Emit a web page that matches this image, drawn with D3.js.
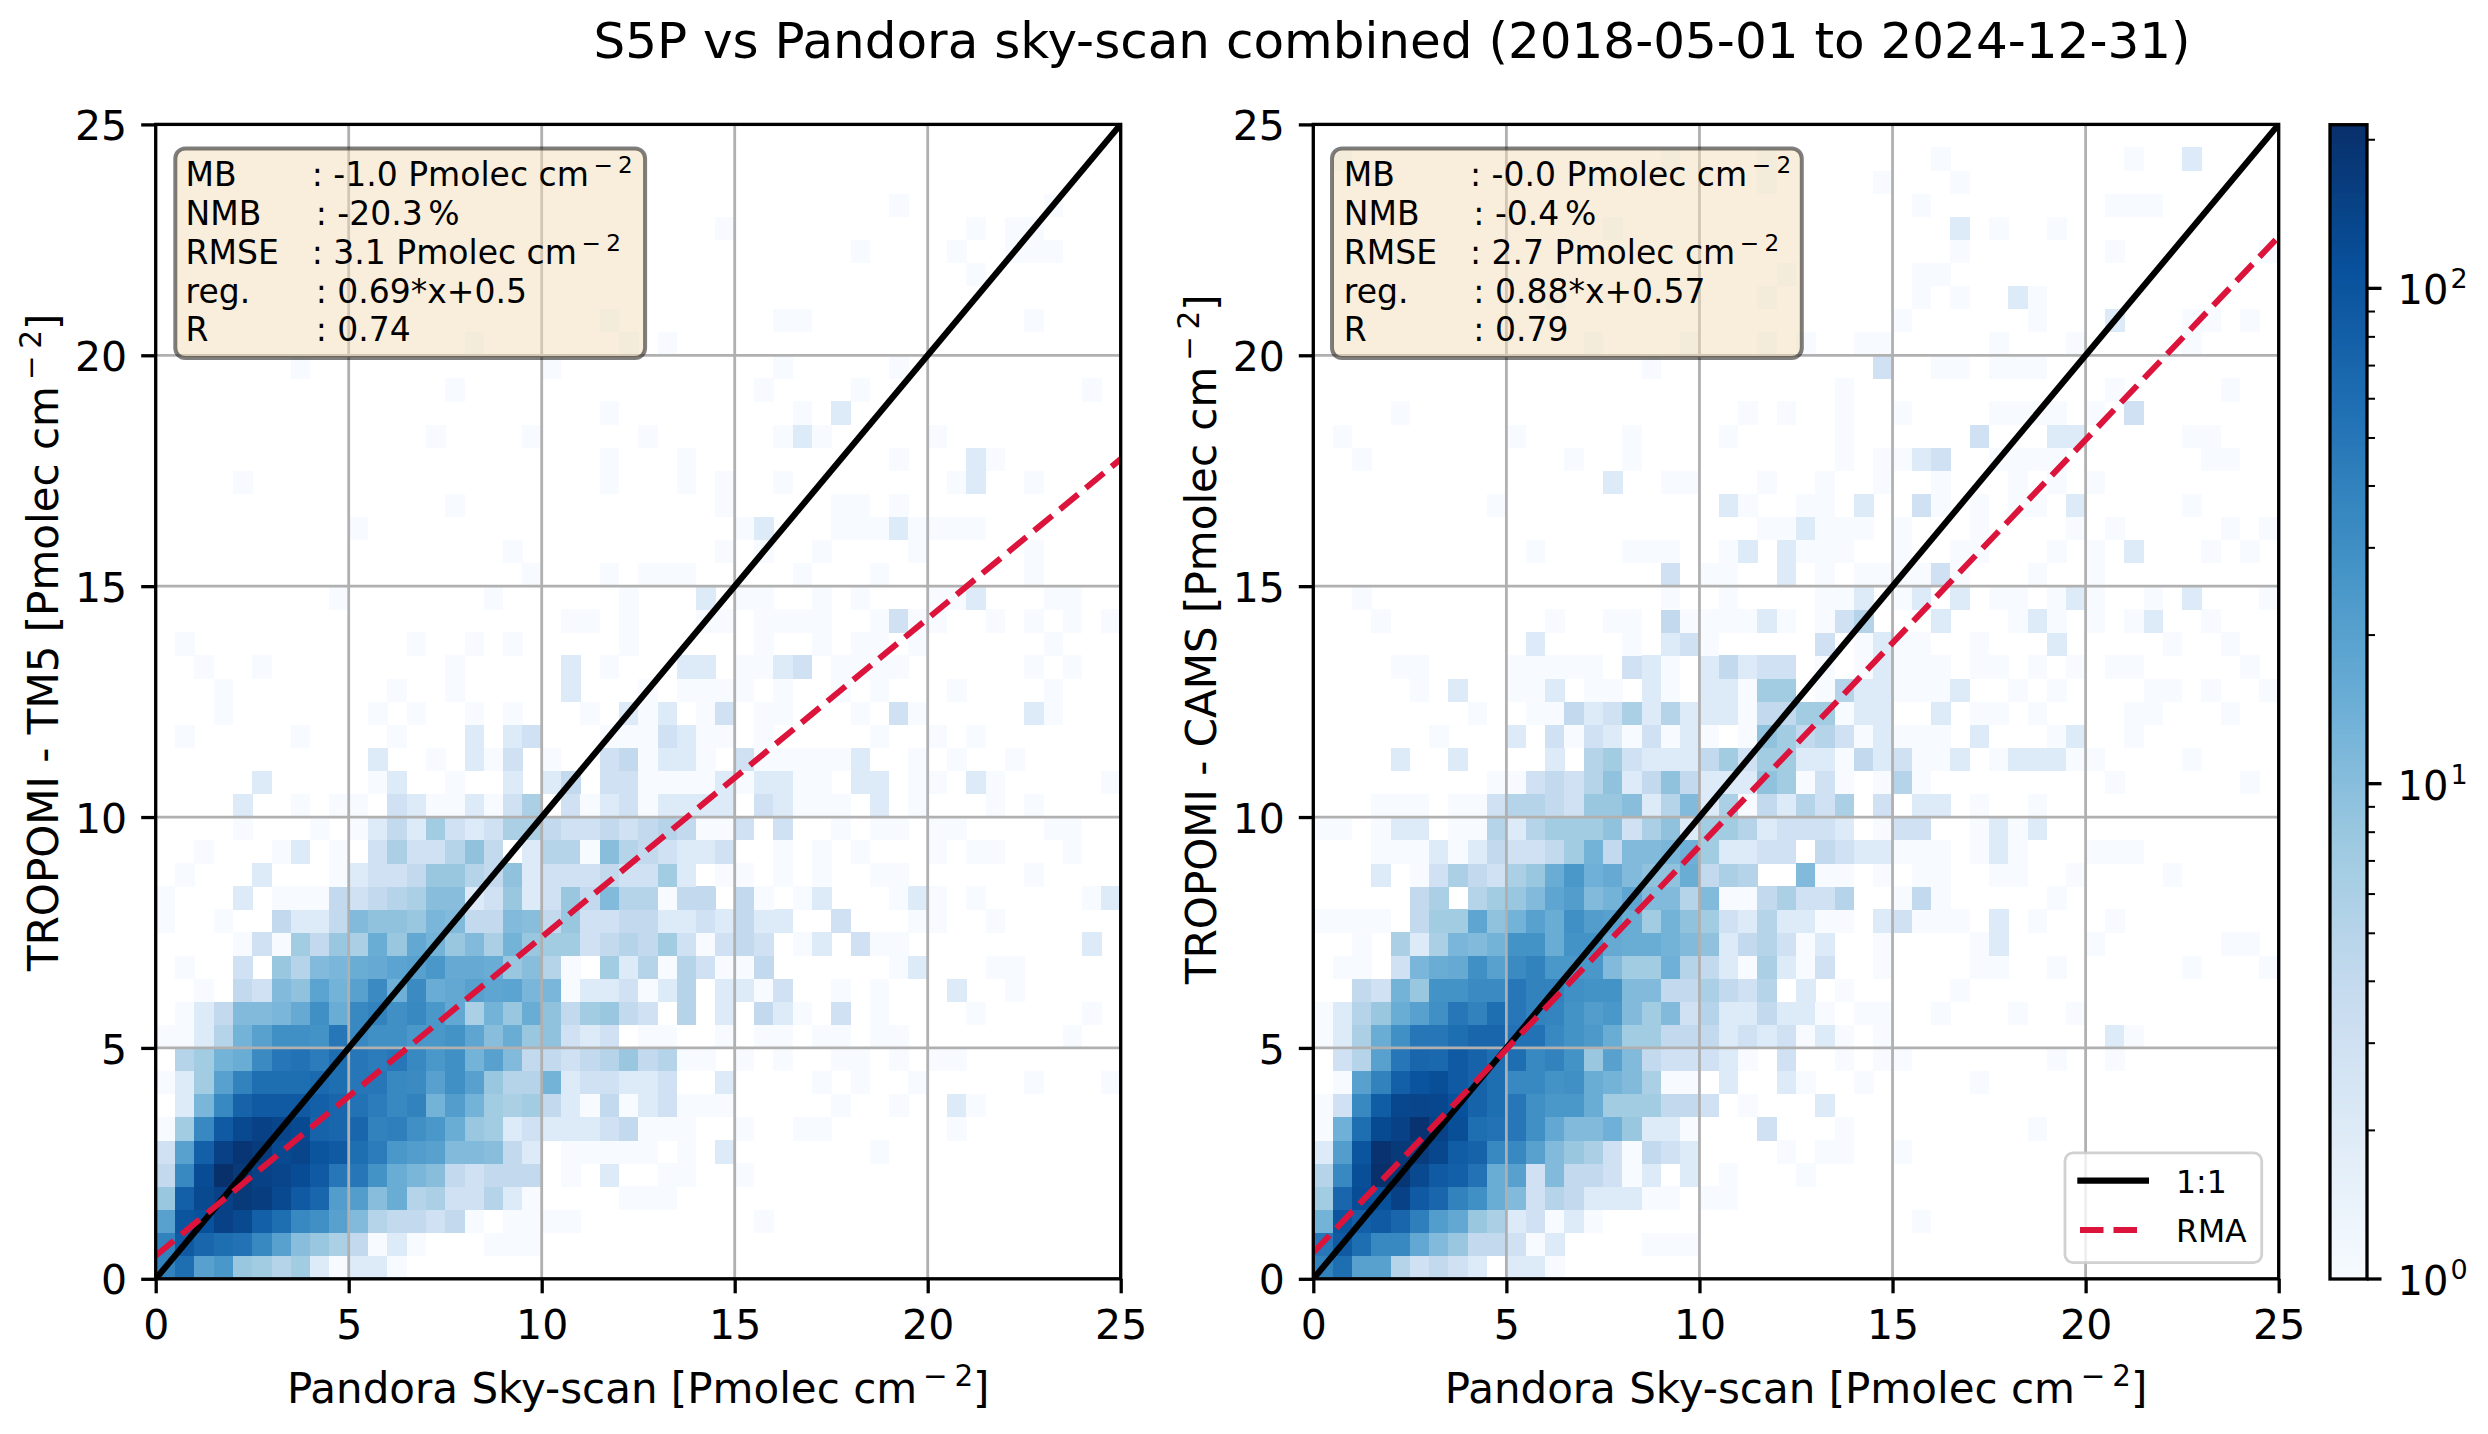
<!DOCTYPE html>
<html><head><meta charset="utf-8">
<script src="https://cdn.jsdelivr.net/npm/d3@7"></script>
<style>html,body{margin:0;padding:0;background:#fff}svg{display:block}text{font-family:"DejaVu Sans";fill:#000}</style>
</head><body><svg id="c" width="2488" height="1434" xmlns="http://www.w3.org/2000/svg"></svg>
<script>
const titleText = "S5P vs Pandora sky-scan combined (2018-05-01 to 2024-12-31)";
const axisTicks = [0,5,10,15,20,25];
const statLabels = ["MB","NMB","RMSE","reg.","R"];
const tm5Stats = ["-1.0","-20.3","3.1","0.69*x+0.5","0.74"];
const camsStats = ["-0.0","-0.4","2.7","0.88*x+0.57","0.79"];
const tm5Fit = [0.69,0.5];
const camsFit = [0.88,0.57];
const legendLabels = ["1:1","RMA"];
// 2-D histogram counts, row = y bin from the bottom (0.5 wide), {xBin: count}
const tm5Rows = [
{0:40,1:60,2:20,3:25,4:8,5:7,6:5,7:7,8:2,9:1,10:2,11:2,12:1},
{0:40,1:90,2:70,3:60,4:55,5:35,6:20,7:10,8:8,9:6,10:4,11:1,12:2,13:1,17:1,18:1,19:1},
{0:20,1:100,2:110,3:150,4:130,5:80,6:60,7:35,8:30,9:20,10:11,11:5,12:4,13:4,14:3,15:4,16:1,18:1,19:1,20:1,21:1,31:1},
{0:8,1:80,2:130,3:150,4:180,5:160,6:130,7:90,8:70,9:22,10:22,11:10,12:15,13:5,14:6,15:3,16:3,17:5,18:2,19:1,24:1,25:1,26:1},
{0:4,1:35,2:120,3:210,4:180,5:150,6:140,7:120,8:90,9:50,10:50,11:28,12:15,13:12,14:10,15:4,16:3,17:4,18:4,19:4,21:1,23:2,26:1,27:1,30:1},
{0:3,1:20,2:80,3:150,4:190,5:170,6:130,7:140,8:100,9:90,10:60,11:45,12:25,13:22,14:20,15:11,16:11,17:10,18:4,19:2,21:1,22:1,23:1,24:1,25:1,27:1,29:2,37:1},
{0:1,1:7,2:35,3:90,4:130,5:150,6:140,7:125,8:75,9:70,10:70,11:40,12:42,13:30,14:25,15:15,16:8,17:7,18:2,19:3,20:2,21:2,22:2,23:3,24:4,25:1,26:1,27:1,30:1,33:1,34:1,41:1},
{1:2,2:12,3:35,4:75,5:90,6:90,7:90,8:80,9:70,10:55,11:45,12:35,13:40,14:13,15:22,16:13,17:7,18:6,19:7,20:4,21:2,22:1,23:4,24:1,25:2,26:3,27:1,28:1,29:1,35:1,38:1,41:2,42:1},
{0:1,1:2,2:7,3:20,4:40,5:60,6:60,7:60,8:65,9:60,10:50,11:50,12:35,13:33,14:20,15:30,16:20,17:8,18:5,19:5,20:13,21:2,22:3,23:3,24:2,25:2,26:3,29:2,34:1,36:1,39:1,45:1,49:1},
{1:5,2:7,3:13,4:15,5:33,6:50,7:55,8:45,9:60,10:50,11:45,12:50,13:35,14:25,15:30,16:13,17:20,18:11,19:4,20:4,21:3,22:4,23:5,24:8,25:4,26:5,27:1,28:1,30:1,32:1,35:1,36:1,38:1,40:1,41:1},
{0:1,1:1,2:2,3:5,4:13,5:20,6:30,7:30,8:28,9:50,10:35,11:30,12:30,13:25,14:25,15:28,16:18,17:10,18:15,19:8,20:9,21:3,22:2,23:3,25:1,26:1,29:1,31:1,32:1,34:1,35:1,37:1,38:1,47:1},
{1:1,2:2,3:4,4:11,5:11,6:12,7:16,8:30,9:15,10:35,11:40,12:30,13:35,14:25,15:17,16:6,17:13,18:8,19:15,20:9,21:4,22:7,23:8,24:4,25:3,27:5,29:2,31:4,32:2,33:1,35:3,37:1,42:1,48:1},
{2:1,4:4,5:3,6:11,7:9,8:19,9:13,10:20,11:33,12:14,13:33,14:15,15:17,16:20,17:18,18:19,19:12,20:12,21:1,22:2,23:2,24:3,25:1,26:2,27:5,29:2,30:2,31:1,32:3,35:1,37:1,41:2,44:1},
{1:1,4:3,6:8,7:5,8:11,9:12,10:15,11:16,12:19,13:20,14:25,15:16,16:16,17:15,18:8,19:10,20:5,21:1,23:7,24:2,25:5,26:1,27:5,28:3,29:1,30:1,31:4,38:1,39:2,43:1,44:1},
{4:1,5:3,6:1,7:7,8:4,9:8,10:6,11:15,12:8,13:17,14:13,15:8,16:11,17:6,18:13,19:8,20:7,21:7,22:3,23:4,24:5,25:4,26:7,27:3,28:1,29:3,30:4,31:3,33:1,34:2,36:3,37:1,38:1,48:2},
{0:1,3:1,6:4,7:2,8:2,9:4,10:11,11:9,12:9,13:8,14:12,15:11,16:4,17:4,18:11,19:10,20:4,21:8,22:3,23:3,24:4,25:4,26:2,27:2,28:3,29:2,30:4,31:2,32:2,35:3,39:1,40:1,43:1},
{0:1,4:2,6:1,7:1,8:1,9:4,10:3,11:4,12:5,13:6,14:10,15:10,16:2,17:3,18:8,19:2,20:3,21:8,22:4,23:11,24:5,25:5,26:1,27:4,28:4,30:4,31:1,33:1,34:2,38:1,39:2,40:1,42:1,48:1,49:2},
{1:1,5:2,9:1,10:2,11:3,12:3,13:4,14:8,15:8,16:5,17:4,18:9,19:2,20:3,21:3,22:3,23:4,24:3,25:3,26:7,27:2,29:1,30:1,32:1,34:1,37:1,38:1,45:1},
{2:1,6:1,7:2,9:1,11:3,12:6,13:3,14:3,15:5,16:9,17:4,19:2,20:5,21:5,22:1,23:10,24:5,25:4,26:3,27:2,28:2,29:3,32:1,34:1,36:1,40:1,42:1,43:1,47:1},
{4:1,8:1,10:1,11:2,12:4,13:2,14:7,15:3,16:2,17:3,18:6,19:6,20:4,21:3,22:3,23:4,24:3,25:4,26:5,27:4,28:1,29:1,30:3,32:3,35:1,37:1,38:1,40:1,41:1,46:1,47:1},
{4:2,7:1,9:1,10:1,12:3,13:2,14:1,15:1,16:2,17:1,18:3,19:6,21:3,22:1,23:2,24:3,25:1,26:2,27:2,28:2,29:2,31:3,32:2,33:1,34:1,35:1,37:2,39:1,43:1,45:1},
{5:2,11:1,12:2,15:1,18:2,20:2,21:4,23:3,24:3,25:1,26:1,27:1,28:1,29:2,30:1,31:2,32:2,33:1,34:1,36:2,37:2,39:1,40:1,42:2,43:1,49:1},
{11:2,14:1,16:2,17:1,18:3,20:1,23:3,24:4,25:1,26:2,27:2,28:1,30:3,31:1,32:1,33:1,34:1,35:1,36:2,39:1,41:1,44:1},
{1:1,7:1,12:1,16:2,18:2,19:3,23:1,24:1,25:1,26:3,27:2,28:1,29:1,31:1,37:1,40:1,42:1},
{3:1,11:1,13:1,16:1,18:1,22:1,24:2,25:1,26:2,28:1,29:3,31:1,32:1,36:1,38:3,39:1,45:2,46:1},
{3:1,12:1,15:1,21:2,25:1,27:1,28:1,29:1,30:1,32:1,35:1,37:1,41:1,46:1},
{2:1,5:1,15:1,21:2,23:1,27:2,28:2,30:1,31:1,32:2,33:3,35:1,36:1,37:1,38:1,45:1,47:1},
{1:1,13:1,16:1,18:1,24:1,31:1,34:1,36:1,37:1,39:1,46:1},
{21:1,22:1,24:1,28:1,29:1,31:1,32:1,33:1,34:1,37:1,38:3,39:1,40:1,43:1,45:1,47:1,49:1},
{9:1,17:1,24:1,28:2,30:1,31:1,34:1,36:1,40:1,41:1,42:2,46:1,47:1},
{19:1,23:1,25:1,26:1,27:1,33:1,37:1,45:1},
{18:1,29:1,31:1,34:1,39:1,45:1},
{10:1,30:1,31:2,35:1,36:1,37:1,38:2,39:1,40:1,41:1,42:1},
{15:1,29:1,35:1,36:1,38:1},
{4:1,23:1,27:1,29:1,32:1,41:1,42:2,45:1},
{23:1,27:1,38:1,42:2,43:1},
{14:1,19:1,25:1,32:1,33:2,34:1,40:1},
{23:1,33:1,35:2},
{15:1,31:1,36:1,48:1},
{7:1,20:1,32:1,38:1},
{16:1,24:1,26:1},
{23:1,32:1,33:1,45:1},
{},
{42:1},
{36:1,41:1,44:1,45:1,46:1},
{29:1,42:1,44:1,45:1},
{38:1,46:1},
{},{},{}
];
const camsRows = [
{0:40,1:60,2:20,3:20,4:5,5:3,6:4,7:3,8:2,10:2,11:2,12:1},
{0:50,1:90,2:60,3:35,4:35,5:17,6:11,7:8,8:4,9:4,10:3,11:1,12:2,17:1,18:1,19:1},
{0:13,1:100,2:80,3:90,4:70,5:42,6:22,7:17,8:8,9:6,10:2,11:3,12:1,13:2,14:1,31:1},
{0:7,1:70,2:120,3:110,4:150,5:90,6:70,7:40,8:30,9:15,10:11,11:3,12:5,13:4,14:2,15:2,16:2,17:1,18:1,20:1,21:1},
{0:5,1:35,2:115,3:210,4:190,5:130,6:90,7:80,8:55,9:15,10:20,11:3,12:11,13:4,14:4,15:3,16:1,17:2,19:2,21:1,25:1},
{0:2,1:22,2:100,3:200,4:180,5:165,6:135,7:85,8:75,9:35,10:35,11:20,12:11,13:8,14:6,15:3,16:1,17:4,18:3,19:2,24:1,26:1,27:1,30:1},
{0:1,1:14,2:60,3:125,4:150,5:200,6:150,7:115,8:60,9:55,10:50,11:30,12:17,13:11,14:11,15:14,16:8,17:2,18:2,19:1,23:3,27:1,37:1},
{0:1,1:3,2:35,3:85,4:135,5:140,6:135,7:110,8:75,9:60,10:50,11:30,12:25,13:25,14:15,15:7,16:7,17:7,18:4,19:4,20:3,22:1,26:2},
{1:1,2:20,3:40,4:80,5:105,6:115,7:90,8:75,9:60,10:35,11:35,12:28,13:30,14:15,15:13,16:11,17:6,18:1,19:1,21:2,24:2,25:1,28:1,34:1},
{1:3,2:5,3:20,4:50,5:70,6:68,7:90,8:75,9:60,10:60,11:35,12:40,13:28,14:8,15:20,16:11,17:4,18:3,19:3,20:3,21:2,22:1,24:3,27:1,29:1,30:1,38:1,41:1},
{0:1,1:2,2:6,3:15,4:30,5:50,6:50,7:60,8:70,9:70,10:55,11:55,12:35,13:28,14:24,15:15,16:7,17:7,18:4,19:4,20:4,21:2,22:3,23:2,24:3,25:1,26:2,27:1,29:1,41:2,42:1},
{0:1,1:2,2:5,3:8,4:15,5:20,6:30,7:50,8:40,9:60,10:50,11:40,12:38,13:28,14:22,15:25,16:11,17:7,18:11,19:3,20:5,21:2,22:2,23:4,24:2,25:2,26:1,28:1,29:1,32:1,36:1,39:1},
{2:4,3:3,4:13,5:8,6:28,7:28,8:33,9:33,10:50,11:40,12:40,13:30,14:28,15:28,16:11,17:11,18:4,19:4,20:6,21:4,22:3,23:5,25:2,27:1,33:1},
{1:1,2:1,4:3,5:12,6:15,7:16,8:30,9:20,10:33,11:40,12:25,13:25,14:25,15:11,16:7,17:7,18:14,19:5,20:4,21:2,22:1,23:6,24:2,25:1,26:3,29:1,34:1,35:1,38:1,45:1,49:1},
{2:1,4:6,5:2,6:6,7:12,8:11,9:13,10:28,11:28,12:15,13:28,14:28,15:16,16:15,17:15,18:13,19:11,20:9,21:2,22:4,23:5,24:3,25:1,26:2,29:1,34:1,35:2,40:1,47:1,48:1},
{0:1,1:1,2:1,3:1,5:4,6:7,7:7,8:18,9:9,10:13,11:20,12:15,13:30,14:22,15:20,16:15,17:7,18:13,19:9,20:7,21:3,22:2,23:5,24:2,25:2,26:1,27:1,29:2,30:3,31:1,32:1,33:1,35:2,37:1,41:1},
{5:4,6:6,8:5,9:7,10:8,11:11,12:18,13:22,14:11,15:13,16:18,17:11,18:11,19:5,20:11,21:1,22:1,23:4,24:6,25:3,26:3,27:5,30:1,31:4,32:1,38:1},
{3:2,5:1,6:3,7:6,8:4,9:3,10:6,11:8,12:15,13:25,14:14,15:16,16:11,17:9,18:9,19:15,20:4,21:6,22:5,25:11,26:1,27:1,29:1,31:1,32:1,35:1,36:1,39:1,44:1},
{3:1,4:1,5:1,6:2,7:1,8:2,9:4,10:3,11:3,12:4,13:7,14:13,15:4,16:11,17:11,18:12,19:14,20:7,21:2,22:2,23:3,24:3,26:4,27:3,28:2,29:2,30:1,31:1,32:1,34:1,35:2,36:1,40:1,41:1,42:1},
{0:1,1:1,3:1,4:2,5:2,7:1,8:1,9:5,10:2,11:5,12:7,13:7,14:7,15:9,16:3,17:6,18:9,19:2,20:7,21:7,22:5,23:2,24:3,25:3,26:3,27:2,29:1,30:3,31:3,34:1,35:2,36:1,37:2},
{3:1,4:1,5:1,7:1,8:1,9:3,10:5,11:5,12:4,13:3,14:8,15:8,16:10,17:2,18:5,19:11,20:2,21:6,22:1,23:4,24:2,25:5,26:3,27:6,29:3,31:2,32:2,34:1,37:1},
{9:1,10:1,11:3,12:4,13:3,14:5,15:9,16:2,17:4,18:9,19:4,20:2,21:2,22:2,23:9,24:7,25:1,26:3,27:1,29:1,30:5,31:1,41:1,48:1},
{4:2,7:2,12:2,14:5,15:7,16:3,17:2,18:2,19:2,20:4,21:7,22:3,23:7,24:7,25:2,26:2,27:1,28:4,29:2,30:3,31:1,32:1,33:2,35:1,36:2,37:2,38:2,39:1,40:1,45:1},
{6:1,10:2,12:3,13:1,14:3,15:2,16:1,17:3,18:1,19:2,20:1,22:1,23:9,24:7,25:4,26:5,27:3,28:1,29:2,30:1,31:1,32:1,34:2,38:1,39:2,42:1},
{8:1,11:1,12:1,13:4,14:2,15:3,16:6,17:2,18:5,19:2,20:2,21:2,22:1,23:4,24:4,25:7,26:7,27:1,28:2,29:2,32:2,34:1,35:1,37:1,42:1,43:1,47:1},
{5:1,7:2,10:1,11:1,12:2,14:1,15:1,17:2,18:1,20:2,21:2,22:1,23:7,24:7,26:1,27:5,28:2,29:2,30:1,31:1,32:1,33:2,36:1,38:1,43:1,44:1,46:1,49:1},
{4:1,5:1,10:1,11:1,12:1,13:1,14:1,16:3,17:2,18:1,20:2,21:4,22:2,23:3,24:3,26:1,28:1,29:2,30:1,31:1,32:1,34:1,35:1,37:1,39:1,41:1,42:1,48:1},
{11:2,16:1,18:2,19:3,20:1,26:3,28:1,29:2,30:1,31:1,34:1,38:2,44:1,47:1},
{3:1,12:1,15:1,16:1,18:4,19:1,20:1,21:1,22:1,23:2,24:1,26:1,27:3,28:5,32:2,36:1,37:2,38:1,40:1,42:1,43:2,46:1},
{2:1,18:1,21:1,26:1,27:1,28:2,30:1,31:2,33:2,35:1,36:1,38:1,39:2,40:1,43:1,45:2,49:1},
{18:3,20:1,21:1,24:2,26:1,28:1,29:1,30:1,31:1,32:3,33:1,37:1,40:1},
{11:1,16:1,17:1,18:1,21:1,22:2,24:2,25:1,26:1,27:1,30:1,33:1,34:1,38:1,40:1,42:2,46:1,48:1},
{23:1,24:1,25:2,26:1,27:1,28:1,30:1,34:1,39:1,41:1,47:1,49:1},
{9:1,21:2,22:1,25:1,26:1,28:2,31:3,32:1,34:1,36:1,37:1,39:2,45:1},
{15:2,18:1,19:1,23:1,26:1,29:1,32:1,36:1,38:1,40:1},
{2:1,13:1,16:1,27:1,29:1,30:1,31:2,32:3,35:1,36:1,37:1,38:1,46:1,47:1},
{1:1,10:1,16:1,21:1,27:1,34:3,38:2,39:2,45:1,46:1},
{4:1,22:1,24:1,27:1,30:1,35:1,36:1,37:1,38:1,40:1,42:3},
{27:1,41:1,47:1},
{17:1,29:3,32:1,33:1,35:1,36:1,37:1},
{14:1,19:1,23:1,25:1,28:1,29:1,35:1,39:1,45:1},
{30:1,37:1,41:2,45:1,46:1,48:1},
{12:1,23:1,31:1,33:1,36:2,37:1},
{24:1,31:1,32:1},
{33:1,41:1,49:1},
{15:1,33:2,35:1,38:1},
{31:1,41:1,42:1,43:1},
{23:1,29:1,33:1},
{1:1,18:1,23:1,32:1,42:1,45:2},
{}
];
const vMin = 1, vMax = 214;
const blues = ["#f7fbff","#deebf7","#c6dbef","#9ecae1","#6baed6","#4292c6","#2171b5","#08519c","#08306b"];
const cbMajor = [1,10,100];
const cbMinor = [2,3,4,5,6,7,8,9,20,30,40,50,60,70,80,90,200];

const svg = d3.select("#c");
svg.append("rect").attr("width",2488).attr("height",1434).attr("fill","#fff");
const colorFrac = d3.scaleLog().domain([vMin,vMax]).range([0,1]);
const ramp = d3.piecewise(d3.interpolateRgb, blues);
const color = v => ramp(colorFrac(v));
const T = 124.4, B = 1278.8, TICK_FS = 41, LABEL_FS = 42, STAT_FS = 33, SW = 3.3, GRID_W = 2.8, LINE_W = 6.2, DASH_W = 6;
const y = d3.scaleLinear().domain([0,25]).range([B,T]);
const UNIT = "Pmolec cm";

function unitSup(t, fs){
  t.append("tspan").attr("dx",fs*0.14).attr("dy",-fs*0.4).attr("font-size",fs*0.7).text("\u2212");
  t.append("tspan").attr("dx",fs*0.16).attr("font-size",fs*0.7).text("2");
}

function panel(o){
  const x = d3.scaleLinear().domain([0,25]).range([o.L,o.R]);
  const g = svg.append("g");
  const id = "clip"+o.k;
  svg.append("clipPath").attr("id",id).append("rect").attr("x",o.L).attr("y",T).attr("width",o.R-o.L).attr("height",B-T);
  const cells = o.rows.flatMap((r,j)=>Object.entries(r).map(([i,v])=>({i:+i,j,v})));
  g.append("g").attr("shape-rendering","crispEdges").selectAll("rect").data(cells).join("rect")
    .attr("x",d=>x(d.i*0.5)).attr("y",d=>y((d.j+1)*0.5))
    .attr("width",x(0.5)-x(0)+0.3).attr("height",y(0)-y(0.5)+0.3)
    .attr("fill",d=>color(d.v));
  // grid
  const grid = g.append("g").attr("stroke","#b0b0b0").attr("stroke-width",GRID_W);
  grid.selectAll("line.v").data(axisTicks).join("line").attr("class","v")
    .attr("x1",d=>x(d)).attr("x2",d=>x(d)).attr("y1",T).attr("y2",B);
  grid.selectAll("line.h").data(axisTicks).join("line").attr("class","h")
    .attr("y1",d=>y(d)).attr("y2",d=>y(d)).attr("x1",o.L).attr("x2",o.R);
  // lines
  const lines = g.append("g").attr("clip-path",`url(#${id})`).attr("fill","none");
  const ln = d3.line().x(d=>x(d[0])).y(d=>y(d[1]));
  lines.append("path").attr("d",ln([[0,0],[25,25]])).attr("stroke","#000").attr("stroke-width",LINE_W);
  lines.append("path").attr("d",ln([0,25].map(v=>[v,o.fit[0]*v+o.fit[1]])))
    .attr("stroke","#dc143c").attr("stroke-width",DASH_W).attr("stroke-dasharray","23.5 10");
  // stats box
  g.append("rect").attr("x",o.boxX).attr("y",148.5).attr("width",469.8).attr("height",209.5).attr("rx",10)
    .attr("fill","#f1ddb7").attr("fill-opacity",0.5).attr("stroke","#000").attr("stroke-opacity",0.5).attr("stroke-width",4);
  const base = [185.9,225.4,264.3,303,341.2];
  statLabels.forEach((s,i)=>{
    g.append("text").attr("x",o.labelX).attr("y",base[i]).attr("font-size",STAT_FS).text(s);
    const t = g.append("text").attr("x",o.colonX[i]).attr("y",base[i]).attr("font-size",STAT_FS);
    t.append("tspan").attr("xml:space","preserve").text(": "+o.stats[i]+(i==0||i==2?" "+UNIT:""));
    if(i==0||i==2) unitSup(t,STAT_FS);
    if(i==1) t.append("tspan").attr("dx",STAT_FS*0.17).text("%");
  });
  // spines
  g.append("rect").attr("x",o.L).attr("y",T).attr("width",o.R-o.L).attr("height",B-T).attr("fill","none").attr("stroke","#000").attr("stroke-width",SW);
  // axes
  const ax = g.append("g").attr("transform",`translate(0,${B})`).call(d3.axisBottom(x).tickValues(axisTicks).tickSize(14.5).tickPadding(16.5).tickFormat(d3.format("d")));
  const ay = g.append("g").attr("transform",`translate(${o.L},0)`).call(d3.axisLeft(y).tickValues(axisTicks).tickSize(14.5).tickPadding(14).tickFormat(d3.format("d")));
  [ax,ay].forEach(a=>{
    a.select(".domain").remove();
    a.selectAll("line").attr("stroke","#000").attr("stroke-width",SW);
    a.selectAll("text").attr("font-size",TICK_FS).attr("font-family","DejaVu Sans").attr("fill","#000");
  });
  ay.selectAll("text").attr("dy","0.37em");
  // axis labels
  const xl = g.append("text").attr("x",(o.L+o.R)/2).attr("y",1403).attr("text-anchor","middle").attr("font-size",LABEL_FS);
  xl.append("tspan").text("Pandora Sky-scan ["+UNIT);
  unitSup(xl,LABEL_FS);
  xl.append("tspan").attr("dy",LABEL_FS*0.4).text("]");
  const yl = g.append("text").attr("transform",`translate(${o.yLabelX},${o.yLabelB}) rotate(-90)`).attr("font-size",LABEL_FS);
  yl.append("tspan").text(o.yLabel+" ["+UNIT);
  unitSup(yl,LABEL_FS);
  yl.append("tspan").attr("dy",LABEL_FS*0.4).text("]");
  return x;
}

panel({k:1,L:155.7,R:1120.7,rows:tm5Rows,fit:tm5Fit,stats:tm5Stats,yLabel:"TROPOMI - TM5",boxX:175.3,
  labelX:185.6,colonX:[311.7,315.7,311.7,315.7,315.7],yLabelX:58,yLabelB:971});
const x2 = panel({k:2,L:1313.3,R:2278.7,rows:camsRows,fit:camsFit,stats:camsStats,yLabel:"TROPOMI - CAMS",boxX:1332,
  labelX:1343.8,colonX:[1470,1473.3,1470,1473.3,1473.3],yLabelX:1216,yLabelB:984});

// legend
const leg = svg.append("g");
leg.append("rect").attr("x",2065).attr("y",1152.8).attr("width",196.7).attr("height",109.9).attr("rx",8)
  .attr("fill","#fff").attr("fill-opacity",0.8).attr("stroke","#ccc").attr("stroke-opacity",0.9).attr("stroke-width",2.8);
leg.append("line").attr("x1",2077.3).attr("x2",2149).attr("y1",1180.6).attr("y2",1180.6).attr("stroke","#000").attr("stroke-width",LINE_W);
leg.append("line").attr("x1",2080).attr("x2",2146).attr("y1",1230).attr("y2",1230).attr("stroke","#dc143c").attr("stroke-width",DASH_W).attr("stroke-dasharray","23.5 10");
leg.append("text").attr("x",2176).attr("y",1193).attr("font-size",31.5).text(legendLabels[0]);
leg.append("text").attr("x",2176).attr("y",1242).attr("font-size",31.5).text(legendLabels[1]);

// colorbar
const cbL = 2330, cbR = 2367, cbT = 124.7, cbB = 1279;
const cy = d3.scaleLog().domain([vMin,vMax]).range([cbB,cbT]);
const cb = svg.append("g");
const levels = d3.range(256).map(i=>Math.pow(vMax,i/255));
cb.append("g").attr("shape-rendering","crispEdges").selectAll("rect").data(levels).join("rect")
  .attr("x",cbL).attr("width",cbR-cbL).attr("y",(d,i)=>cbB-(i+1)*(cbB-cbT)/256).attr("height",(cbB-cbT)/256+1).attr("fill",d=>color(d));
cb.append("rect").attr("x",cbL).attr("y",cbT).attr("width",cbR-cbL).attr("height",cbB-cbT).attr("fill","none").attr("stroke","#000").attr("stroke-width",SW);
const cax = cb.append("g").attr("transform",`translate(${cbR},0)`).call(d3.axisRight(cy).tickValues(cbMinor).tickSize(8).tickFormat(""));
cax.select(".domain").remove();
cax.selectAll("line").attr("stroke","#000").attr("stroke-width",2);
const majors = cb.selectAll("g.maj").data(cbMajor).join("g").attr("class","maj").attr("transform",d=>`translate(${cbR},${cy(d)})`);
majors.append("line").attr("x2",14.5).attr("stroke","#000").attr("stroke-width",SW);
const lbl = majors.append("text").attr("x",30.5).attr("y",16).attr("font-size",40);
lbl.append("tspan").text("10");
lbl.append("tspan").attr("dx",2).attr("dy",-16).attr("font-size",27).text(d=>Math.round(Math.log10(d)));

// title
svg.append("text").attr("x",1392).attr("y",58.3).attr("text-anchor","middle").attr("font-size",50).text(titleText);
</script></body></html>
